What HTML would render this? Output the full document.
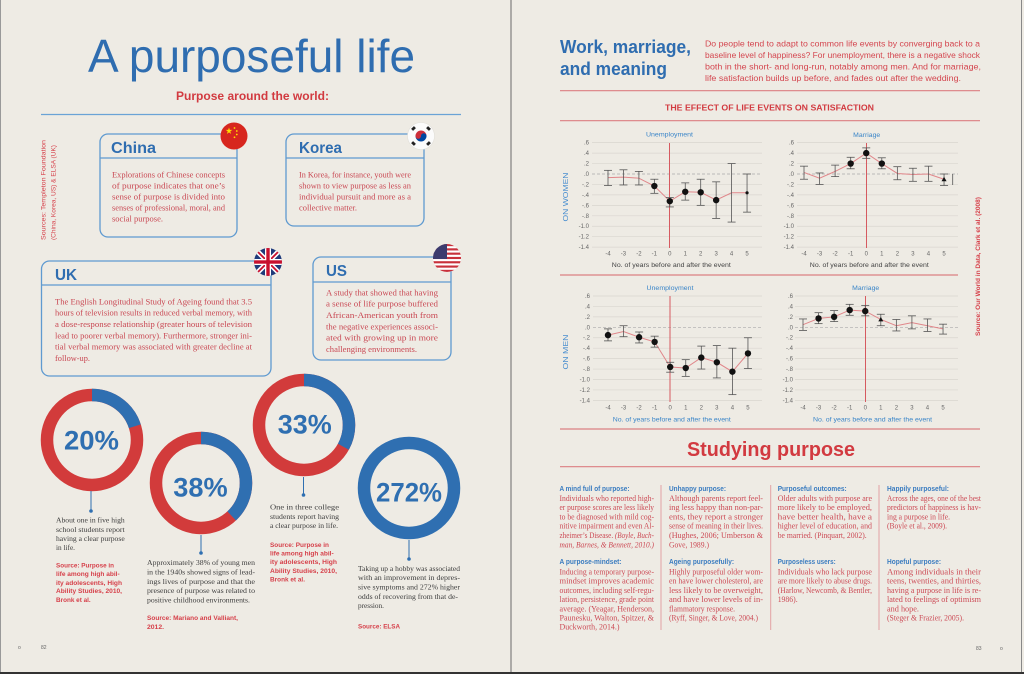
<!DOCTYPE html>
<html><head><meta charset="utf-8"><style>
html,body{margin:0;padding:0;background:#eeebe4;}
svg{display:block}
.s{font-family:"Liberation Sans",sans-serif}
.f{font-family:"Liberation Serif",serif}
.tk{font-family:"Liberation Sans",sans-serif;font-size:6px;fill:#666}
.bt{font-family:"Liberation Serif",serif;font-size:8.5px;fill:#c94853}
.dk{font-family:"Liberation Serif",serif;font-size:7.8px;fill:#3d3d3d}
.src{font-family:"Liberation Sans",sans-serif;font-size:6.8px;font-weight:bold;fill:#d6404a}
.hd{font-family:"Liberation Sans",sans-serif;font-size:7px;font-weight:bold;fill:#3a7cc0}
.sb{font-family:"Liberation Serif",serif;font-size:8px;fill:#cc4a55}
.ct{font-family:"Liberation Sans",sans-serif;font-size:6.5px;fill:#3a85c8}
.grid line{stroke:#d9d6cf;stroke-width:0.7}
.eb line{stroke:#555;stroke-width:0.8}
.vz{stroke:#d65a60;stroke-width:1}
</style></head><body>
<svg width="1024" height="674" viewBox="0 0 1024 674" xmlns="http://www.w3.org/2000/svg">
<rect x="0" y="0" width="1024" height="674" fill="#eeebe4"/>
<line x1="0.5" y1="0" x2="0.5" y2="674" stroke="#999" stroke-width="1"/>
<line x1="511" y1="0" x2="511" y2="674" stroke="#6a6a6a" stroke-width="1"/>
<line x1="1021.5" y1="0" x2="1021.5" y2="674" stroke="#888" stroke-width="1"/>
<rect x="0" y="672" width="1024" height="2" fill="#333"/>

<!-- LEFT PAGE -->
<text x="88" y="72" class="s" font-size="46" fill="#2f6db0" textLength="327" lengthAdjust="spacingAndGlyphs">A purposeful life</text>
<text x="176" y="100" class="s" font-size="12" font-weight="bold" fill="#d23a40" textLength="153" lengthAdjust="spacingAndGlyphs">Purpose around the world:</text>
<line x1="41" y1="114.5" x2="461" y2="114.5" stroke="#6aa3d6" stroke-width="1.2"/>

<text transform="translate(45.5,240) rotate(-90)" class="s" font-size="6.5" fill="#d6404a" textLength="100" lengthAdjust="spacingAndGlyphs">Sources: Templeton Foundation</text>
<text transform="translate(55.5,240) rotate(-90)" class="s" font-size="6.5" fill="#d6404a" textLength="95" lengthAdjust="spacingAndGlyphs">(China, Korea, US) &amp; ELSA (UK)</text>

<!-- China box -->
<rect x="100" y="134" width="137" height="103" rx="8" fill="none" stroke="#5f9ad0" stroke-width="1.3"/>
<line x1="100" y1="158" x2="237" y2="158" stroke="#5f9ad0" stroke-width="1.3"/>
<text x="111" y="153" class="s" font-size="16" font-weight="bold" fill="#2f6db0" textLength="45" lengthAdjust="spacingAndGlyphs">China</text>
<text class="bt" x="112" y="177.5" textLength="113" lengthAdjust="spacingAndGlyphs">Explorations of Chinese concepts</text>
<text class="bt" x="112" y="188.5" textLength="113" lengthAdjust="spacingAndGlyphs">of purpose indicates that one’s</text>
<text class="bt" x="112" y="199.5" textLength="113" lengthAdjust="spacingAndGlyphs">sense of purpose is divided into</text>
<text class="bt" x="112" y="210.5" textLength="113" lengthAdjust="spacingAndGlyphs">senses of professional, moral, and</text>
<text class="bt" x="112" y="221.5" textLength="51" lengthAdjust="spacingAndGlyphs">social purpose.</text>
<circle cx="234" cy="136" r="13.5" fill="#d7261e"/>
<polygon points="229,127.5 229.79,129.92 232.33,129.92 230.27,131.41 231.06,133.83 229,132.34 226.94,133.83 227.73,131.41 225.67,129.92 228.21,129.92" fill="#ffde00"/>
<circle cx="234.5" cy="128" r="0.9" fill="#ffde00"/>
<circle cx="236.8" cy="131" r="0.9" fill="#ffde00"/>
<circle cx="236.8" cy="134.5" r="0.9" fill="#ffde00"/>
<circle cx="234.5" cy="137.3" r="0.9" fill="#ffde00"/>

<!-- Korea box -->
<rect x="286" y="134" width="138" height="92" rx="8" fill="none" stroke="#5f9ad0" stroke-width="1.3"/>
<line x1="286" y1="158" x2="424" y2="158" stroke="#5f9ad0" stroke-width="1.3"/>
<text x="299" y="153" class="s" font-size="16" font-weight="bold" fill="#2f6db0" textLength="43" lengthAdjust="spacingAndGlyphs">Korea</text>
<text class="bt" x="299" y="177.5" textLength="112" lengthAdjust="spacingAndGlyphs">In Korea, for instance, youth were</text>
<text class="bt" x="299" y="188.5" textLength="112" lengthAdjust="spacingAndGlyphs">shown to view purpose as less an</text>
<text class="bt" x="299" y="199.5" textLength="112" lengthAdjust="spacingAndGlyphs">individual pursuit and more as a</text>
<text class="bt" x="299" y="210.5" textLength="58" lengthAdjust="spacingAndGlyphs">collective matter.</text>
<circle cx="421" cy="136" r="13.5" fill="#fbfbfb" stroke="#e2e0da" stroke-width="0.6"/>
<path d="M415.5,136 A5.5,5.5 0 0 1 426.5,136 Z" fill="#cd2e3a"/>
<path d="M415.5,136 A5.5,5.5 0 0 0 426.5,136 Z" fill="#0047a0"/>
<circle cx="418.25" cy="136" r="2.75" fill="#cd2e3a"/>
<circle cx="423.75" cy="136" r="2.75" fill="#0047a0"/>
<g fill="#222">
<rect x="-2" y="-1.4" width="4" height="2.8" transform="translate(413.5,128.5) rotate(-45)"/>
<rect x="-2" y="-1.4" width="4" height="2.8" transform="translate(428.5,128.5) rotate(45)"/>
<rect x="-2" y="-1.4" width="4" height="2.8" transform="translate(413.5,143.5) rotate(45)"/>
<rect x="-2" y="-1.4" width="4" height="2.8" transform="translate(428.5,143.5) rotate(-45)"/>
</g>

<!-- UK box -->
<rect x="41.5" y="261" width="229.5" height="115" rx="8" fill="none" stroke="#5f9ad0" stroke-width="1.3"/>
<line x1="41.5" y1="285" x2="271" y2="285" stroke="#5f9ad0" stroke-width="1.3"/>
<text x="55" y="280" class="s" font-size="16" font-weight="bold" fill="#2f6db0" textLength="22" lengthAdjust="spacingAndGlyphs">UK</text>
<text class="bt" x="55" y="304.7" textLength="197" lengthAdjust="spacingAndGlyphs">The English Longitudinal Study of Ageing found that 3.5</text>
<text class="bt" x="55" y="315.7" textLength="197" lengthAdjust="spacingAndGlyphs">hours of television results in reduced verbal memory, with</text>
<text class="bt" x="55" y="327" textLength="197" lengthAdjust="spacingAndGlyphs">a dose-response relationship (greater hours of television</text>
<text class="bt" x="55" y="338.7" textLength="197" lengthAdjust="spacingAndGlyphs">lead to poorer verbal memory). Furthermore, stronger ini-</text>
<text class="bt" x="55" y="349.7" textLength="197" lengthAdjust="spacingAndGlyphs">tial verbal memory was associated with greater decline at</text>
<text class="bt" x="55" y="361" textLength="35" lengthAdjust="spacingAndGlyphs">follow-up.</text>
<defs>
<clipPath id="ukc"><circle cx="268" cy="262" r="14"/></clipPath>
<clipPath id="usc"><circle cx="447" cy="258" r="14"/></clipPath>
</defs>
<g clip-path="url(#ukc)">
<rect x="254" y="248" width="28" height="28" fill="#1f3a7a"/>
<line x1="254" y1="248" x2="282" y2="276" stroke="#fff" stroke-width="5"/>
<line x1="282" y1="248" x2="254" y2="276" stroke="#fff" stroke-width="5"/>
<line x1="254" y1="248" x2="282" y2="276" stroke="#c8102e" stroke-width="1.8"/>
<line x1="282" y1="248" x2="254" y2="276" stroke="#c8102e" stroke-width="1.8"/>
<rect x="254" y="259" width="28" height="6" fill="#fff"/>
<rect x="265" y="248" width="6" height="28" fill="#fff"/>
<rect x="254" y="260.3" width="28" height="3.4" fill="#c8102e"/>
<rect x="266.3" y="248" width="3.4" height="28" fill="#c8102e"/>
</g>

<!-- US box -->
<rect x="313" y="257" width="138" height="103" rx="8" fill="none" stroke="#5f9ad0" stroke-width="1.3"/>
<line x1="313" y1="282" x2="451" y2="282" stroke="#5f9ad0" stroke-width="1.3"/>
<text x="326" y="276" class="s" font-size="16" font-weight="bold" fill="#2f6db0" textLength="21" lengthAdjust="spacingAndGlyphs">US</text>
<text class="bt" x="326" y="295.7" textLength="112" lengthAdjust="spacingAndGlyphs">A study that showed that having</text>
<text class="bt" x="326" y="306.3" textLength="112" lengthAdjust="spacingAndGlyphs">a sense of life purpose buffered</text>
<text class="bt" x="326" y="318" textLength="112" lengthAdjust="spacingAndGlyphs">African-American youth from</text>
<text class="bt" x="326" y="329.7" textLength="112" lengthAdjust="spacingAndGlyphs">the negative experiences associ-</text>
<text class="bt" x="326" y="340.7" textLength="112" lengthAdjust="spacingAndGlyphs">ated with growing up in more</text>
<text class="bt" x="326" y="352" textLength="91" lengthAdjust="spacingAndGlyphs">challenging environments.</text>
<g clip-path="url(#usc)">
<rect x="433" y="244" width="28" height="28" fill="#fff"/>
<rect x="433" y="244" width="28" height="2.15" fill="#c8313b"/>
<rect x="433" y="248.3" width="28" height="2.15" fill="#c8313b"/>
<rect x="433" y="252.6" width="28" height="2.15" fill="#c8313b"/>
<rect x="433" y="256.9" width="28" height="2.15" fill="#c8313b"/>
<rect x="433" y="261.2" width="28" height="2.15" fill="#c8313b"/>
<rect x="433" y="265.5" width="28" height="2.15" fill="#c8313b"/>
<rect x="433" y="269.8" width="28" height="2.15" fill="#c8313b"/>
<rect x="433" y="244" width="14" height="15" fill="#3c3b6e"/>
</g>

<!-- Donuts -->
<g fill="none" stroke-width="12.5">
<circle cx="92" cy="440" r="45" stroke="#d23b3b"/>
<circle cx="92" cy="440" r="45" stroke="#2f6fb1" stroke-dasharray="56.55 300" transform="rotate(-90 92 440)"/>
<circle cx="201" cy="483" r="45" stroke="#d23b3b"/>
<circle cx="201" cy="483" r="45" stroke="#2f6fb1" stroke-dasharray="107.44 300" transform="rotate(-90 201 483)"/>
<circle cx="304" cy="425" r="45" stroke="#d23b3b"/>
<circle cx="304" cy="425" r="45" stroke="#2f6fb1" stroke-dasharray="93.3 300" transform="rotate(-90 304 425)"/>
<circle cx="409" cy="488" r="45" stroke="#2f6fb1"/>
</g>
<g class="s" font-size="27" font-weight="bold" fill="#2f6fb1" text-anchor="middle">
<text x="91.5" y="449.5" textLength="55" lengthAdjust="spacingAndGlyphs">20%</text>
<text x="200.5" y="496.5" textLength="54.4" lengthAdjust="spacingAndGlyphs">38%</text>
<text x="304.7" y="433.5" textLength="54" lengthAdjust="spacingAndGlyphs">33%</text>
<text x="409" y="501.5" textLength="66" lengthAdjust="spacingAndGlyphs">272%</text>
</g>
<g stroke="#2f6fb1" stroke-width="1">
<line x1="91" y1="491" x2="91" y2="511"/>
<line x1="201" y1="535" x2="201" y2="553"/>
<line x1="303.5" y1="477" x2="303.5" y2="495"/>
<line x1="409" y1="540" x2="409" y2="559"/>
</g>
<g fill="#2f6fb1">
<circle cx="91" cy="511" r="1.8"/>
<circle cx="201" cy="553" r="1.8"/>
<circle cx="303.5" cy="495" r="1.8"/>
<circle cx="409" cy="559" r="1.8"/>
</g>

<text class="dk" x="56" y="522.5" textLength="68.7" lengthAdjust="spacingAndGlyphs">About one in five high</text>
<text class="dk" x="56" y="531.8" textLength="68.7" lengthAdjust="spacingAndGlyphs">school students report</text>
<text class="dk" x="56" y="541.2" textLength="68.7" lengthAdjust="spacingAndGlyphs">having a clear purpose</text>
<text class="dk" x="56" y="550.2" textLength="19" lengthAdjust="spacingAndGlyphs">in life.</text>
<text class="src" x="56" y="567.5" textLength="58" lengthAdjust="spacingAndGlyphs">Source: Purpose in</text>
<text class="src" x="56" y="576.2" textLength="63.7" lengthAdjust="spacingAndGlyphs">life among high abil-</text>
<text class="src" x="56" y="584.8" textLength="66" lengthAdjust="spacingAndGlyphs">ity adolescents, High</text>
<text class="src" x="56" y="593.2" textLength="66" lengthAdjust="spacingAndGlyphs">Ability Studies, 2010,</text>
<text class="src" x="56" y="601.8" textLength="34.7" lengthAdjust="spacingAndGlyphs">Bronk et al.</text>

<text class="dk" x="147" y="565.2" textLength="108" lengthAdjust="spacingAndGlyphs">Approximately 38% of young men</text>
<text class="dk" x="147" y="574.5" textLength="108" lengthAdjust="spacingAndGlyphs">in the 1940s showed signs of lead-</text>
<text class="dk" x="147" y="583.8" textLength="108" lengthAdjust="spacingAndGlyphs">ings lives of purpose and that the</text>
<text class="dk" x="147" y="593.2" textLength="108" lengthAdjust="spacingAndGlyphs">presence of purpose was related to</text>
<text class="dk" x="147" y="602.5" textLength="103" lengthAdjust="spacingAndGlyphs">positive childhood environments.</text>
<text class="src" x="147" y="620.2" textLength="91" lengthAdjust="spacingAndGlyphs">Source: Mariano and Valliant,</text>
<text class="src" x="147" y="628.8" textLength="17" lengthAdjust="spacingAndGlyphs">2012.</text>

<text class="dk" x="270" y="509.5" textLength="69" lengthAdjust="spacingAndGlyphs">One in three college</text>
<text class="dk" x="270" y="518.8" textLength="69" lengthAdjust="spacingAndGlyphs">students report having</text>
<text class="dk" x="270" y="528.2" textLength="68" lengthAdjust="spacingAndGlyphs">a clear purpose in life.</text>
<text class="src" x="270" y="546.8" textLength="59" lengthAdjust="spacingAndGlyphs">Source: Purpose in</text>
<text class="src" x="270" y="555.5" textLength="63.7" lengthAdjust="spacingAndGlyphs">life among high abil-</text>
<text class="src" x="270" y="564.2" textLength="67" lengthAdjust="spacingAndGlyphs">ity adolescents, High</text>
<text class="src" x="270" y="572.8" textLength="67" lengthAdjust="spacingAndGlyphs">Ability Studies, 2010,</text>
<text class="src" x="270" y="581.5" textLength="35" lengthAdjust="spacingAndGlyphs">Bronk et al.</text>

<text class="dk" x="358" y="570.8" textLength="102" lengthAdjust="spacingAndGlyphs">Taking up a hobby was associated</text>
<text class="dk" x="358" y="580.2" textLength="102" lengthAdjust="spacingAndGlyphs">with an improvement in depres-</text>
<text class="dk" x="358" y="589.5" textLength="102" lengthAdjust="spacingAndGlyphs">sive symptoms and 272% higher</text>
<text class="dk" x="358" y="598.8" textLength="100" lengthAdjust="spacingAndGlyphs">odds of recovering from that de-</text>
<text class="dk" x="358" y="608.2" textLength="26" lengthAdjust="spacingAndGlyphs">pression.</text>
<text class="src" x="358" y="628.5" textLength="42" lengthAdjust="spacingAndGlyphs">Source: ELSA</text>

<text x="18" y="649" class="s" font-size="5" fill="#666">o</text>
<text x="41" y="649" class="s" font-size="5" fill="#666">82</text>

<!-- RIGHT PAGE -->
<text x="560" y="53" class="s" font-size="18" font-weight="bold" fill="#2f6db0" textLength="131" lengthAdjust="spacingAndGlyphs">Work, marriage,</text>
<text x="560" y="75" class="s" font-size="18" font-weight="bold" fill="#2f6db0" textLength="107" lengthAdjust="spacingAndGlyphs">and meaning</text>
<g class="s" font-size="8.7" fill="#d4464f">
<text x="705" y="46.5" textLength="275" lengthAdjust="spacingAndGlyphs">Do people tend to adapt to common life events by converging back to a</text>
<text x="705" y="58" textLength="275" lengthAdjust="spacingAndGlyphs">baseline level of happiness? For unemployment, there is a negative shock</text>
<text x="705" y="69.5" textLength="276" lengthAdjust="spacingAndGlyphs">both in the short- and long-run, notably among men. And for marriage,</text>
<text x="705" y="81" textLength="256" lengthAdjust="spacingAndGlyphs">life satisfaction builds up before, and fades out after the wedding.</text>
</g>
<g stroke="#dc7f82" stroke-width="1.2">
<line x1="560" y1="90.7" x2="980" y2="90.7"/>
<line x1="560" y1="120.7" x2="980" y2="120.7"/>
<line x1="560" y1="275" x2="958" y2="275"/>
<line x1="560" y1="429" x2="980" y2="429"/>
<line x1="560" y1="466.7" x2="980" y2="466.7"/>
</g>
<text x="665" y="110.3" class="s" font-size="8.5" font-weight="bold" fill="#d23a40" textLength="209" lengthAdjust="spacingAndGlyphs">THE EFFECT OF LIFE EVENTS ON SATISFACTION</text>

<text transform="translate(568,197) rotate(-90)" class="s" font-size="7.5" fill="#4a8fd0" text-anchor="middle" textLength="49" lengthAdjust="spacingAndGlyphs">ON WOMEN</text>
<text transform="translate(568,352) rotate(-90)" class="s" font-size="7.5" fill="#4a8fd0" text-anchor="middle" textLength="35" lengthAdjust="spacingAndGlyphs">ON MEN</text>
<text transform="translate(980,336) rotate(-90)" class="s" font-size="6.5" font-weight="bold" fill="#d6404a" textLength="139" lengthAdjust="spacingAndGlyphs">Source: Our World in Data, Clark et al. (2008)</text>

<!-- Chart 1: Women Unemployment -->
<g class="grid">
<line x1="592" y1="142.65" x2="762" y2="142.65"/><line x1="592" y1="153.1" x2="762" y2="153.1"/><line x1="592" y1="163.55" x2="762" y2="163.55"/>
<line x1="592" y1="184.45" x2="762" y2="184.45"/><line x1="592" y1="194.9" x2="762" y2="194.9"/><line x1="592" y1="205.35" x2="762" y2="205.35"/>
<line x1="592" y1="215.8" x2="762" y2="215.8"/><line x1="592" y1="226.25" x2="762" y2="226.25"/><line x1="592" y1="236.7" x2="762" y2="236.7"/><line x1="592" y1="247.15" x2="762" y2="247.15"/>
</g>
<line x1="592" y1="174" x2="762" y2="174" stroke="#aaa" stroke-width="0.7" stroke-dasharray="3 2"/>
<line class="vz" x1="669.5" y1="143" x2="669.5" y2="248"/>
<g class="tk" text-anchor="end">
<text x="589" y="144.6">.6</text><text x="589" y="155.1">.4</text><text x="589" y="165.5">.2</text><text x="589" y="176">.0</text>
<text x="589" y="186.4">-.2</text><text x="589" y="196.9">-.4</text><text x="589" y="207.3">-.6</text><text x="589" y="217.8">-.8</text>
<text x="589" y="228.2">-1.0</text><text x="589" y="238.7">-1.2</text><text x="589" y="249.1">-1.4</text>
</g>
<g class="tk" text-anchor="middle">
<text x="608" y="255.5">-4</text><text x="623.45" y="255.5">-3</text><text x="638.9" y="255.5">-2</text><text x="654.35" y="255.5">-1</text><text x="669.8" y="255.5">0</text>
<text x="685.25" y="255.5">1</text><text x="700.7" y="255.5">2</text><text x="716.15" y="255.5">3</text><text x="731.6" y="255.5">4</text><text x="747.05" y="255.5">5</text>
</g>
<text x="669.5" y="136.5" class="ct" text-anchor="middle" textLength="47" lengthAdjust="spacingAndGlyphs">Unemployment</text>
<text x="671.3" y="267" class="s" font-size="6.8" fill="#444" text-anchor="middle" textLength="119" lengthAdjust="spacingAndGlyphs">No. of years before and after the event</text>
<polyline points="608,177.66 623.45,177.1 638.9,178.18 654.35,186.02 669.8,201.17 685.25,191.77 700.7,192.29 716.15,200.13 731.6,192.81 747.05,192.81" fill="none" stroke="#e0868a" stroke-width="1"/>
<g class="eb">
<line x1="608" y1="170.34" x2="608" y2="185.5"/><line x1="604" y1="170.34" x2="612" y2="170.34"/><line x1="604" y1="185.5" x2="612" y2="185.5"/>
<line x1="623.45" y1="169.8" x2="623.45" y2="184.97"/><line x1="619.45" y1="169.8" x2="627.45" y2="169.8"/><line x1="619.45" y1="184.97" x2="627.45" y2="184.97"/>
<line x1="638.9" y1="171.39" x2="638.9" y2="184.97"/><line x1="634.9" y1="171.39" x2="642.9" y2="171.39"/><line x1="634.9" y1="184.97" x2="642.9" y2="184.97"/>
<line x1="654.35" y1="179.23" x2="654.35" y2="193.33"/><line x1="650.35" y1="179.23" x2="658.35" y2="179.23"/><line x1="650.35" y1="193.33" x2="658.35" y2="193.33"/>
<line x1="669.8" y1="197.51" x2="669.8" y2="206.92"/><line x1="665.8" y1="197.51" x2="673.8" y2="197.51"/><line x1="665.8" y1="206.92" x2="673.8" y2="206.92"/>
<line x1="685.25" y1="182.88" x2="685.25" y2="200.13"/><line x1="681.25" y1="182.88" x2="689.25" y2="182.88"/><line x1="681.25" y1="200.13" x2="689.25" y2="200.13"/>
<line x1="700.7" y1="179.23" x2="700.7" y2="205.35"/><line x1="696.7" y1="179.23" x2="704.7" y2="179.23"/><line x1="696.7" y1="205.35" x2="704.7" y2="205.35"/>
<line x1="716.15" y1="181.84" x2="716.15" y2="218.41"/><line x1="712.15" y1="181.84" x2="720.15" y2="181.84"/><line x1="712.15" y1="218.41" x2="720.15" y2="218.41"/>
<line x1="731.6" y1="163.55" x2="731.6" y2="222.07"/><line x1="727.6" y1="163.55" x2="735.6" y2="163.55"/><line x1="727.6" y1="222.07" x2="735.6" y2="222.07"/>
<line x1="747.05" y1="174" x2="747.05" y2="212.14"/><line x1="743.05" y1="174" x2="751.05" y2="174"/><line x1="743.05" y1="212.14" x2="751.05" y2="212.14"/>
</g>
<g fill="#111">
<circle cx="654.35" cy="186.02" r="3.2"/><circle cx="669.8" cy="201.17" r="3.2"/><circle cx="685.25" cy="191.77" r="3.2"/><circle cx="700.7" cy="192.29" r="3.2"/><circle cx="716.15" cy="200.13" r="3.2"/><circle cx="747.05" cy="192.81" r="1.6"/>
</g>

<!-- Chart 2: Women Marriage -->
<g class="grid">
<line x1="797" y1="142.65" x2="958" y2="142.65"/><line x1="797" y1="153.1" x2="958" y2="153.1"/><line x1="797" y1="163.55" x2="958" y2="163.55"/>
<line x1="797" y1="184.45" x2="958" y2="184.45"/><line x1="797" y1="194.9" x2="958" y2="194.9"/><line x1="797" y1="205.35" x2="958" y2="205.35"/>
<line x1="797" y1="215.8" x2="958" y2="215.8"/><line x1="797" y1="226.25" x2="958" y2="226.25"/><line x1="797" y1="236.7" x2="958" y2="236.7"/><line x1="797" y1="247.15" x2="958" y2="247.15"/>
</g>
<line x1="797" y1="174" x2="958" y2="174" stroke="#aaa" stroke-width="0.7" stroke-dasharray="3 2"/>
<line class="vz" x1="866.5" y1="143" x2="866.5" y2="248"/>
<g class="tk" text-anchor="end">
<text x="794" y="144.6">.6</text><text x="794" y="155.1">.4</text><text x="794" y="165.5">.2</text><text x="794" y="176">.0</text>
<text x="794" y="186.4">-.2</text><text x="794" y="196.9">-.4</text><text x="794" y="207.3">-.6</text><text x="794" y="217.8">-.8</text>
<text x="794" y="228.2">-1.0</text><text x="794" y="238.7">-1.2</text><text x="794" y="249.1">-1.4</text>
</g>
<g class="tk" text-anchor="middle">
<text x="804" y="255.5">-4</text><text x="819.56" y="255.5">-3</text><text x="835.12" y="255.5">-2</text><text x="850.68" y="255.5">-1</text><text x="866.24" y="255.5">0</text>
<text x="881.8" y="255.5">1</text><text x="897.36" y="255.5">2</text><text x="912.92" y="255.5">3</text><text x="928.48" y="255.5">4</text><text x="944.04" y="255.5">5</text>
</g>
<text x="866.7" y="137" class="ct" text-anchor="middle" textLength="27" lengthAdjust="spacingAndGlyphs">Marriage</text>
<text x="869.3" y="267" class="s" font-size="6.8" fill="#444" text-anchor="middle" textLength="119" lengthAdjust="spacingAndGlyphs">No. of years before and after the event</text>
<polyline points="804,172.43 819.56,178.18 835.12,171.39 850.68,163.55 866.24,153.1 881.8,163.55 897.36,173.48 912.92,174.52 928.48,174 944.04,179.23" fill="none" stroke="#e0868a" stroke-width="1"/>
<g class="eb">
<line x1="804" y1="166.16" x2="804" y2="179.23"/><line x1="800" y1="166.16" x2="808" y2="166.16"/><line x1="800" y1="179.23" x2="808" y2="179.23"/>
<line x1="819.56" y1="172.96" x2="819.56" y2="184.45"/><line x1="815.56" y1="172.96" x2="823.56" y2="172.96"/><line x1="815.56" y1="184.45" x2="823.56" y2="184.45"/>
<line x1="835.12" y1="165.12" x2="835.12" y2="176.61"/><line x1="831.12" y1="165.12" x2="839.12" y2="165.12"/><line x1="831.12" y1="176.61" x2="839.12" y2="176.61"/>
<line x1="850.68" y1="157.28" x2="850.68" y2="168.78"/><line x1="846.68" y1="157.28" x2="854.68" y2="157.28"/><line x1="846.68" y1="168.78" x2="854.68" y2="168.78"/>
<line x1="866.24" y1="147.88" x2="866.24" y2="158.33"/><line x1="862.24" y1="147.88" x2="870.24" y2="147.88"/><line x1="862.24" y1="158.33" x2="870.24" y2="158.33"/>
<line x1="881.8" y1="157.8" x2="881.8" y2="168.78"/><line x1="877.8" y1="157.8" x2="885.8" y2="157.8"/><line x1="877.8" y1="168.78" x2="885.8" y2="168.78"/>
<line x1="897.36" y1="166.69" x2="897.36" y2="179.75"/><line x1="893.36" y1="166.69" x2="901.36" y2="166.69"/><line x1="893.36" y1="179.75" x2="901.36" y2="179.75"/>
<line x1="912.92" y1="168.25" x2="912.92" y2="181.32"/><line x1="908.92" y1="168.25" x2="916.92" y2="168.25"/><line x1="908.92" y1="181.32" x2="916.92" y2="181.32"/>
<line x1="928.48" y1="166.16" x2="928.48" y2="181.32"/><line x1="924.48" y1="166.16" x2="932.48" y2="166.16"/><line x1="924.48" y1="181.32" x2="932.48" y2="181.32"/>
<line x1="944.04" y1="174" x2="944.04" y2="185.5"/><line x1="940.04" y1="174" x2="948.04" y2="174"/><line x1="940.04" y1="185.5" x2="948.04" y2="185.5"/>
<line x1="952.7" y1="174" x2="952.7" y2="185"/>
</g>
<g fill="#111">
<circle cx="850.68" cy="163.55" r="3.2"/><circle cx="866.24" cy="153.1" r="3.2"/><circle cx="881.8" cy="163.55" r="3.2"/>
<polygon points="944.04,176.7 941.5,181.2 946.6,181.2"/>
</g>

<!-- Chart 3: Men Unemployment -->
<g class="grid">
<line x1="593" y1="295.98" x2="762" y2="295.98"/><line x1="593" y1="306.42" x2="762" y2="306.42"/><line x1="593" y1="316.86" x2="762" y2="316.86"/>
<line x1="593" y1="337.74" x2="762" y2="337.74"/><line x1="593" y1="348.18" x2="762" y2="348.18"/><line x1="593" y1="358.62" x2="762" y2="358.62"/>
<line x1="593" y1="369.06" x2="762" y2="369.06"/><line x1="593" y1="379.5" x2="762" y2="379.5"/><line x1="593" y1="389.94" x2="762" y2="389.94"/><line x1="593" y1="400.38" x2="762" y2="400.38"/>
</g>
<line x1="593" y1="327.3" x2="762" y2="327.3" stroke="#aaa" stroke-width="0.7" stroke-dasharray="3 2"/>
<line class="vz" x1="670" y1="296" x2="670" y2="402"/>
<g class="tk" text-anchor="end">
<text x="590" y="298">.6</text><text x="590" y="308.4">.4</text><text x="590" y="318.9">.2</text><text x="590" y="329.3">.0</text>
<text x="590" y="339.7">-.2</text><text x="590" y="350.2">-.4</text><text x="590" y="360.6">-.6</text><text x="590" y="371">-.8</text>
<text x="590" y="381.5">-1.0</text><text x="590" y="391.9">-1.2</text><text x="590" y="402.4">-1.4</text>
</g>
<g class="tk" text-anchor="middle">
<text x="608" y="409.5">-4</text><text x="623.55" y="409.5">-3</text><text x="639.1" y="409.5">-2</text><text x="654.65" y="409.5">-1</text><text x="670.2" y="409.5">0</text>
<text x="685.75" y="409.5">1</text><text x="701.3" y="409.5">2</text><text x="716.85" y="409.5">3</text><text x="732.4" y="409.5">4</text><text x="747.95" y="409.5">5</text>
</g>
<text x="670" y="290" class="ct" text-anchor="middle" textLength="47" lengthAdjust="spacingAndGlyphs">Unemployment</text>
<text x="671.8" y="421.5" class="s" font-size="6.8" fill="#3a85c8" text-anchor="middle" textLength="118" lengthAdjust="spacingAndGlyphs">No. of years before and after the event</text>
<polyline points="608,335.13 623.55,331.48 639.1,337.22 654.65,341.92 670.2,366.97 685.75,368.02 701.3,357.58 716.85,362.27 732.4,371.67 747.95,353.4" fill="none" stroke="#e0868a" stroke-width="1"/>
<g class="eb">
<line x1="608" y1="328.87" x2="608" y2="340.87"/><line x1="604" y1="328.87" x2="612" y2="328.87"/><line x1="604" y1="340.87" x2="612" y2="340.87"/>
<line x1="623.55" y1="325.73" x2="623.55" y2="336.7"/><line x1="619.55" y1="325.73" x2="627.55" y2="325.73"/><line x1="619.55" y1="336.7" x2="627.55" y2="336.7"/>
<line x1="639.1" y1="332" x2="639.1" y2="342.96"/><line x1="635.1" y1="332" x2="643.1" y2="332"/><line x1="635.1" y1="342.96" x2="643.1" y2="342.96"/>
<line x1="654.65" y1="336.17" x2="654.65" y2="347.14"/><line x1="650.65" y1="336.17" x2="658.65" y2="336.17"/><line x1="650.65" y1="347.14" x2="658.65" y2="347.14"/>
<line x1="670.2" y1="362.27" x2="670.2" y2="372.19"/><line x1="666.2" y1="362.27" x2="674.2" y2="362.27"/><line x1="666.2" y1="372.19" x2="674.2" y2="372.19"/>
<line x1="685.75" y1="359.66" x2="685.75" y2="376.37"/><line x1="681.75" y1="359.66" x2="689.75" y2="359.66"/><line x1="681.75" y1="376.37" x2="689.75" y2="376.37"/>
<line x1="701.3" y1="346.09" x2="701.3" y2="369.06"/><line x1="697.3" y1="346.09" x2="705.3" y2="346.09"/><line x1="697.3" y1="369.06" x2="705.3" y2="369.06"/>
<line x1="716.85" y1="345.57" x2="716.85" y2="377.93"/><line x1="712.85" y1="345.57" x2="720.85" y2="345.57"/><line x1="712.85" y1="377.93" x2="720.85" y2="377.93"/>
<line x1="732.4" y1="348.18" x2="732.4" y2="394.64"/><line x1="728.4" y1="348.18" x2="736.4" y2="348.18"/><line x1="728.4" y1="394.64" x2="736.4" y2="394.64"/>
<line x1="747.95" y1="337.74" x2="747.95" y2="368.54"/><line x1="743.95" y1="337.74" x2="751.95" y2="337.74"/><line x1="743.95" y1="368.54" x2="751.95" y2="368.54"/>
</g>
<g fill="#111">
<circle cx="608" cy="335.13" r="3.2"/><circle cx="639.1" cy="337.22" r="3.2"/><circle cx="654.65" cy="341.92" r="3.2"/><circle cx="670.2" cy="366.97" r="3.2"/>
<circle cx="685.75" cy="368.02" r="3.2"/><circle cx="701.3" cy="357.58" r="3.2"/><circle cx="716.85" cy="362.27" r="3.2"/><circle cx="732.4" cy="371.67" r="3.2"/><circle cx="747.95" cy="353.4" r="3.2"/>
</g>

<!-- Chart 4: Men Marriage -->
<g class="grid">
<line x1="795" y1="295.98" x2="958" y2="295.98"/><line x1="795" y1="306.42" x2="958" y2="306.42"/><line x1="795" y1="316.86" x2="958" y2="316.86"/>
<line x1="795" y1="337.74" x2="958" y2="337.74"/><line x1="795" y1="348.18" x2="958" y2="348.18"/><line x1="795" y1="358.62" x2="958" y2="358.62"/>
<line x1="795" y1="369.06" x2="958" y2="369.06"/><line x1="795" y1="379.5" x2="958" y2="379.5"/><line x1="795" y1="389.94" x2="958" y2="389.94"/><line x1="795" y1="400.38" x2="958" y2="400.38"/>
</g>
<line x1="795" y1="327.3" x2="958" y2="327.3" stroke="#aaa" stroke-width="0.7" stroke-dasharray="3 2"/>
<line class="vz" x1="865.5" y1="296" x2="865.5" y2="402"/>
<g class="tk" text-anchor="end">
<text x="793" y="298">.6</text><text x="793" y="308.4">.4</text><text x="793" y="318.9">.2</text><text x="793" y="329.3">.0</text>
<text x="793" y="339.7">-.2</text><text x="793" y="350.2">-.4</text><text x="793" y="360.6">-.6</text><text x="793" y="371">-.8</text>
<text x="793" y="381.5">-1.0</text><text x="793" y="391.9">-1.2</text><text x="793" y="402.4">-1.4</text>
</g>
<g class="tk" text-anchor="middle">
<text x="803" y="409.5">-4</text><text x="818.56" y="409.5">-3</text><text x="834.12" y="409.5">-2</text><text x="849.68" y="409.5">-1</text><text x="865.24" y="409.5">0</text>
<text x="880.8" y="409.5">1</text><text x="896.36" y="409.5">2</text><text x="911.92" y="409.5">3</text><text x="927.48" y="409.5">4</text><text x="943.04" y="409.5">5</text>
</g>
<text x="865.7" y="290" class="ct" text-anchor="middle" textLength="27" lengthAdjust="spacingAndGlyphs">Marriage</text>
<text x="872.5" y="421.5" class="s" font-size="6.8" fill="#3a85c8" text-anchor="middle" textLength="119" lengthAdjust="spacingAndGlyphs">No. of years before and after the event</text>
<polyline points="803,324.69 818.56,318.43 834.12,316.86 849.68,310.07 865.24,311.12 880.8,319.47 896.36,325.73 911.92,322.6 927.48,325.73 943.04,328.87" fill="none" stroke="#e0868a" stroke-width="1"/>
<g class="eb">
<line x1="803" y1="318.95" x2="803" y2="330.43"/><line x1="799" y1="318.95" x2="807" y2="318.95"/><line x1="799" y1="330.43" x2="807" y2="330.43"/>
<line x1="818.56" y1="312.68" x2="818.56" y2="323.65"/><line x1="814.56" y1="312.68" x2="822.56" y2="312.68"/><line x1="814.56" y1="323.65" x2="822.56" y2="323.65"/>
<line x1="834.12" y1="310.6" x2="834.12" y2="321.56"/><line x1="830.12" y1="310.6" x2="838.12" y2="310.6"/><line x1="830.12" y1="321.56" x2="838.12" y2="321.56"/>
<line x1="849.68" y1="304.33" x2="849.68" y2="315.29"/><line x1="845.68" y1="304.33" x2="853.68" y2="304.33"/><line x1="845.68" y1="315.29" x2="853.68" y2="315.29"/>
<line x1="865.24" y1="305.38" x2="865.24" y2="315.82"/><line x1="861.24" y1="305.38" x2="869.24" y2="305.38"/><line x1="861.24" y1="315.82" x2="869.24" y2="315.82"/>
<line x1="880.8" y1="314.25" x2="880.8" y2="325.73"/><line x1="876.8" y1="314.25" x2="884.8" y2="314.25"/><line x1="876.8" y1="325.73" x2="884.8" y2="325.73"/>
<line x1="896.36" y1="319.47" x2="896.36" y2="330.95"/><line x1="892.36" y1="319.47" x2="900.36" y2="319.47"/><line x1="892.36" y1="330.95" x2="900.36" y2="330.95"/>
<line x1="911.92" y1="315.82" x2="911.92" y2="328.87"/><line x1="907.92" y1="315.82" x2="915.92" y2="315.82"/><line x1="907.92" y1="328.87" x2="915.92" y2="328.87"/>
<line x1="927.48" y1="318.95" x2="927.48" y2="331.48"/><line x1="923.48" y1="318.95" x2="931.48" y2="318.95"/><line x1="923.48" y1="331.48" x2="931.48" y2="331.48"/>
<line x1="943.04" y1="324.17" x2="943.04" y2="334.09"/><line x1="939.04" y1="324.17" x2="947.04" y2="324.17"/><line x1="939.04" y1="334.09" x2="947.04" y2="334.09"/>
</g>
<g fill="#111">
<circle cx="818.56" cy="318.43" r="3.2"/><circle cx="834.12" cy="316.86" r="3.2"/><circle cx="849.68" cy="310.07" r="3.2"/><circle cx="865.24" cy="311.12" r="3.2"/>
<polygon points="880.8,316.9 878.3,321.4 883.3,321.4"/>
</g>

<!-- Studying purpose -->
<text x="687" y="456" class="s" font-size="20" font-weight="bold" fill="#d23a40" textLength="168" lengthAdjust="spacingAndGlyphs">Studying purpose</text>
<g stroke="#e3a2a4" stroke-width="1">
<line x1="661" y1="485" x2="661" y2="630"/>
<line x1="770.7" y1="485" x2="770.7" y2="630"/>
<line x1="879" y1="485" x2="879" y2="630"/>
</g>

<!-- col 1 -->
<text class="hd" x="559.5" y="491" textLength="70" lengthAdjust="spacingAndGlyphs">A mind full of purpose:</text>
<text class="sb" x="559.5" y="501" textLength="94.5" lengthAdjust="spacingAndGlyphs">Individuals who reported high-</text>
<text class="sb" x="559.5" y="510" textLength="94.5" lengthAdjust="spacingAndGlyphs">er purpose scores are less likely</text>
<text class="sb" x="559.5" y="519.4" textLength="94.5" lengthAdjust="spacingAndGlyphs">to be diagnosed with mild cog-</text>
<text class="sb" x="559.5" y="528.7" textLength="94.5" lengthAdjust="spacingAndGlyphs">nitive impairment and even Al-</text>
<text class="sb" x="559.5" y="538" textLength="94.5" lengthAdjust="spacingAndGlyphs">zheimer’s Disease. <tspan font-style="italic">(Boyle, Buch-</tspan></text>
<text class="sb" x="559.5" y="547.4" font-style="italic" textLength="94.5" lengthAdjust="spacingAndGlyphs">man, Barnes, &amp; Bennett, 2010.)</text>
<text class="hd" x="559.5" y="564" textLength="62" lengthAdjust="spacingAndGlyphs">A purpose-mindset:</text>
<text class="sb" x="559.5" y="574.4" textLength="94.5" lengthAdjust="spacingAndGlyphs">Inducing a temporary purpose-</text>
<text class="sb" x="559.5" y="583.7" textLength="94.5" lengthAdjust="spacingAndGlyphs">mindset improves academic</text>
<text class="sb" x="559.5" y="593" textLength="94.5" lengthAdjust="spacingAndGlyphs">outcomes, including self-regu-</text>
<text class="sb" x="559.5" y="602" textLength="94.5" lengthAdjust="spacingAndGlyphs">lation, persistence, grade point</text>
<text class="sb" x="559.5" y="611.4" textLength="94.5" lengthAdjust="spacingAndGlyphs">average. (Yeagar, Henderson,</text>
<text class="sb" x="559.5" y="620.7" textLength="94.5" lengthAdjust="spacingAndGlyphs">Paunesku, Walton, Spitzer, &amp;</text>
<text class="sb" x="559.5" y="629.7" textLength="60" lengthAdjust="spacingAndGlyphs">Duckworth, 2014.)</text>

<!-- col 2 -->
<text class="hd" x="669" y="491" textLength="57" lengthAdjust="spacingAndGlyphs">Unhappy purpose:</text>
<text class="sb" x="669" y="501" textLength="94" lengthAdjust="spacingAndGlyphs">Although parents report feel-</text>
<text class="sb" x="669" y="510" textLength="94" lengthAdjust="spacingAndGlyphs">ing less happy than non-par-</text>
<text class="sb" x="669" y="519.4" textLength="94" lengthAdjust="spacingAndGlyphs">ents, they report a stronger</text>
<text class="sb" x="669" y="528.7" textLength="94" lengthAdjust="spacingAndGlyphs">sense of meaning in their lives.</text>
<text class="sb" x="669" y="538" textLength="94" lengthAdjust="spacingAndGlyphs">(Hughes, 2006; Umberson &amp;</text>
<text class="sb" x="669" y="547.4" textLength="40" lengthAdjust="spacingAndGlyphs">Gove, 1989.)</text>
<text class="hd" x="669" y="564" textLength="65" lengthAdjust="spacingAndGlyphs">Ageing purposefully:</text>
<text class="sb" x="669" y="574.4" textLength="94" lengthAdjust="spacingAndGlyphs">Highly purposeful older wom-</text>
<text class="sb" x="669" y="583.7" textLength="94" lengthAdjust="spacingAndGlyphs">en have lower cholesterol, are</text>
<text class="sb" x="669" y="593" textLength="94" lengthAdjust="spacingAndGlyphs">less likely to be overweight,</text>
<text class="sb" x="669" y="602" textLength="94" lengthAdjust="spacingAndGlyphs">and have lower levels of in-</text>
<text class="sb" x="669" y="611.4" textLength="66" lengthAdjust="spacingAndGlyphs">flammatory response.</text>
<text class="sb" x="669" y="620.7" textLength="89" lengthAdjust="spacingAndGlyphs">(Ryff, Singer, &amp; Love, 2004.)</text>

<!-- col 3 -->
<text class="hd" x="777.7" y="491" textLength="69" lengthAdjust="spacingAndGlyphs">Purposeful outcomes:</text>
<text class="sb" x="777.7" y="501" textLength="94.3" lengthAdjust="spacingAndGlyphs">Older adults with purpose are</text>
<text class="sb" x="777.7" y="510" textLength="94.3" lengthAdjust="spacingAndGlyphs">more likely to be employed,</text>
<text class="sb" x="777.7" y="519.4" textLength="94.3" lengthAdjust="spacingAndGlyphs">have better health, have a</text>
<text class="sb" x="777.7" y="528.7" textLength="94.3" lengthAdjust="spacingAndGlyphs">higher level of education, and</text>
<text class="sb" x="777.7" y="538" textLength="89" lengthAdjust="spacingAndGlyphs">be married. (Pinquart, 2002).</text>
<text class="hd" x="777.7" y="564" textLength="58" lengthAdjust="spacingAndGlyphs">Purposeless users:</text>
<text class="sb" x="777.7" y="574.4" textLength="94.3" lengthAdjust="spacingAndGlyphs">Individuals who lack purpose</text>
<text class="sb" x="777.7" y="583.7" textLength="94.3" lengthAdjust="spacingAndGlyphs">are more likely to abuse drugs.</text>
<text class="sb" x="777.7" y="593" textLength="94.3" lengthAdjust="spacingAndGlyphs">(Harlow, Newcomb, &amp; Bentler,</text>
<text class="sb" x="777.7" y="602" textLength="20" lengthAdjust="spacingAndGlyphs">1986).</text>

<!-- col 4 -->
<text class="hd" x="887" y="491" textLength="62" lengthAdjust="spacingAndGlyphs">Happily purposeful:</text>
<text class="sb" x="887" y="501" textLength="94" lengthAdjust="spacingAndGlyphs">Across the ages, one of the best</text>
<text class="sb" x="887" y="510" textLength="94" lengthAdjust="spacingAndGlyphs">predictors of happiness is hav-</text>
<text class="sb" x="887" y="519.4" textLength="63" lengthAdjust="spacingAndGlyphs">ing a purpose in life.</text>
<text class="sb" x="887" y="528.7" textLength="60" lengthAdjust="spacingAndGlyphs">(Boyle et al., 2009).</text>
<text class="hd" x="887" y="564" textLength="54" lengthAdjust="spacingAndGlyphs">Hopeful purpose:</text>
<text class="sb" x="887" y="574.4" textLength="94" lengthAdjust="spacingAndGlyphs">Among individuals in their</text>
<text class="sb" x="887" y="583.7" textLength="94" lengthAdjust="spacingAndGlyphs">teens, twenties, and thirties,</text>
<text class="sb" x="887" y="593" textLength="94" lengthAdjust="spacingAndGlyphs">having a purpose in life is re-</text>
<text class="sb" x="887" y="602" textLength="94" lengthAdjust="spacingAndGlyphs">lated to feelings of optimism</text>
<text class="sb" x="887" y="611.4" textLength="32" lengthAdjust="spacingAndGlyphs">and hope.</text>
<text class="sb" x="887" y="620.7" textLength="77" lengthAdjust="spacingAndGlyphs">(Steger &amp; Frazier, 2005).</text>

<text x="976" y="650" class="s" font-size="5" fill="#666">83</text>
<text x="1000" y="650" class="s" font-size="5" fill="#666">o</text>
</svg>
</body></html>
